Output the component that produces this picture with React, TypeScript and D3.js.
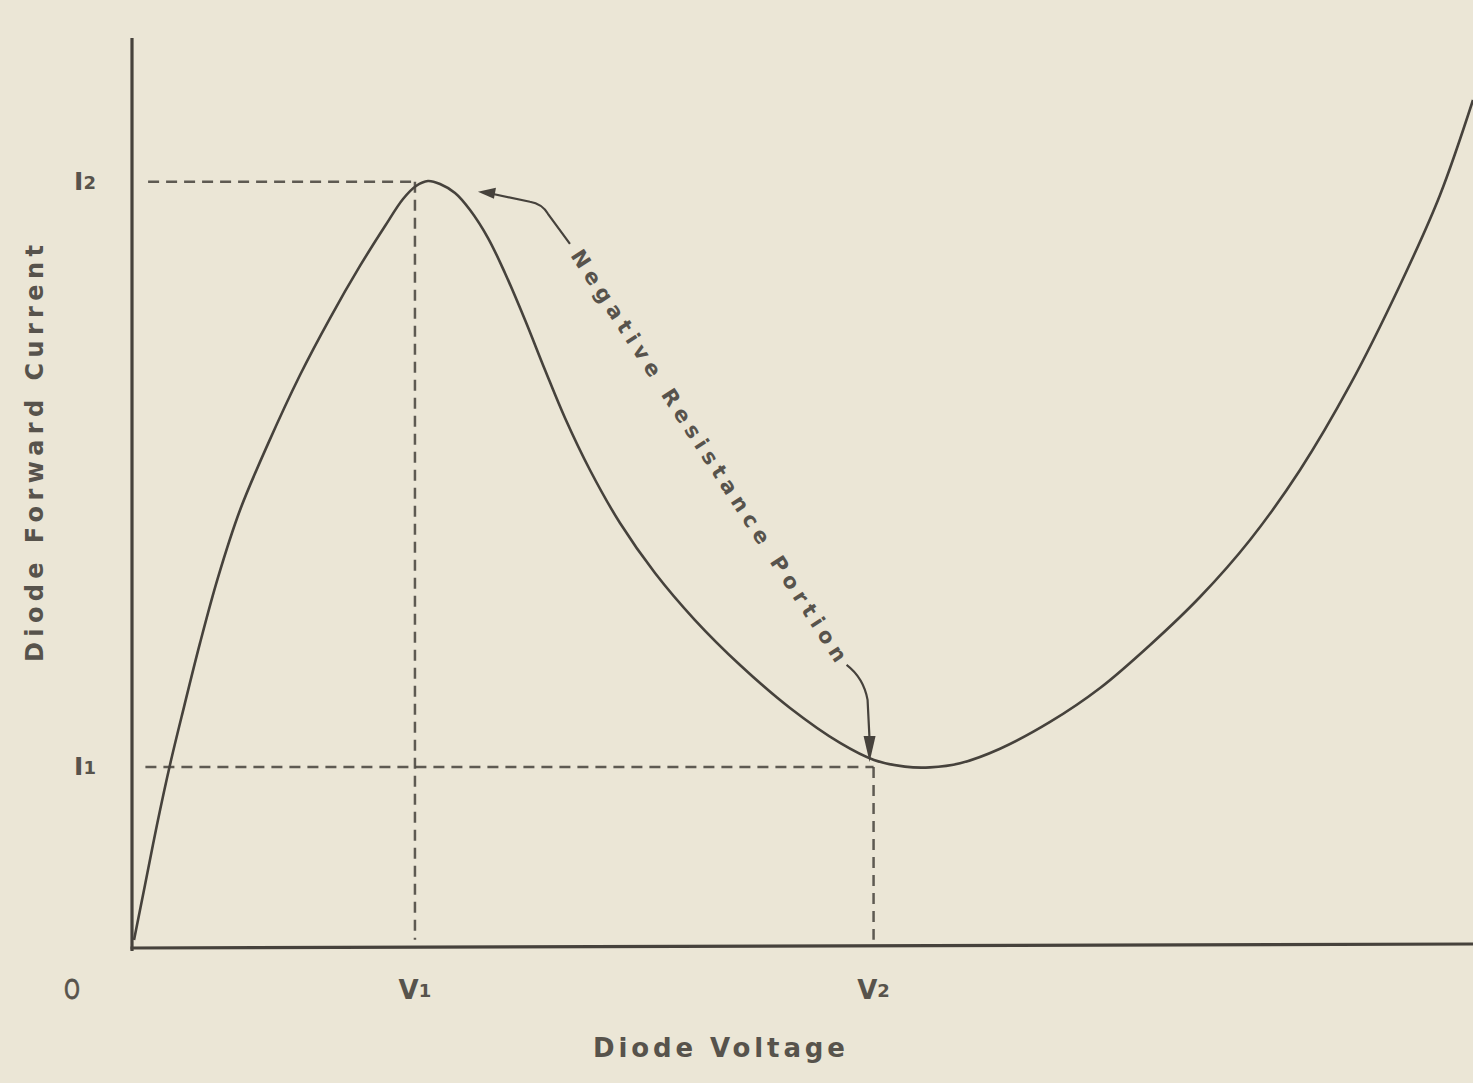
import React from "react";
import * as d3 from "d3";

// Tunnel diode characteristic (arbitrary units 0..100)
const curveVoltage = [0.15, 0.97, 1.86, 2.83, 3.88, 5.07, 6.41, 8.05, 10.14, 12.53, 14.77, 17.0, 18.87, 20.21, 21.18, 22.07, 22.97, 24.09, 25.21, 26.55, 27.81, 29.31, 30.8, 32.29, 34.15, 36.39, 39.0, 41.98, 45.34, 49.07, 52.8, 55.33, 57.64, 59.51, 61.75, 64.73, 68.46, 72.19, 75.92, 79.64, 83.37, 87.1, 90.83, 94.56, 97.54, 100];
const curveCurrent = [0.88, 6.92, 13.52, 20.11, 26.5, 33.5, 40.7, 48.1, 55.4, 62.97, 69.23, 74.95, 79.34, 82.31, 83.74, 84.29, 83.96, 82.97, 81.1, 78.02, 74.18, 69.01, 63.52, 58.24, 52.53, 46.7, 41.21, 36.04, 31.1, 26.37, 22.53, 20.66, 19.93, 19.85, 20.3, 21.9, 24.84, 28.57, 33.3, 38.57, 44.84, 52.53, 61.87, 72.86, 82.75, 93.19];

const voltageMarks = [
  { name: "V", sub: "1", value: 21.1 },
  { name: "V", sub: "2", value: 55.3 },
];
const currentMarks = [
  { name: "I", sub: "2", value: 84.2 },
  { name: "I", sub: "1", value: 19.9 },
];
const originLabel = "O";
const xTitle = "Diode Voltage";
const yTitle = "Diode Forward Current";
const noteText = "Negative Resistance Portion";

const W = 1473;
const H = 1083;
const BG = "#ebe6d6";
const INK = "#46423c";
const TXT = "#57534c";
const FONT = "'DejaVu Sans', 'Liberation Sans', sans-serif";

export default function App() {
  const x = d3.scaleLinear().domain([0, 100]).range([132, 1473]);
  const y = d3.scaleLinear().domain([0, 100]).range([948, 38]);

  const pts: [number, number][] = curveVoltage.map((v, i) => [v, curveCurrent[i]]);
  const line = d3
    .line<[number, number]>()
    .x((d) => x(d[0]))
    .y((d) => y(d[1]))
    .curve(d3.curveCatmullRom.alpha(0.5));

  const [vPeak, vValley] = [voltageMarks[0].value, voltageMarks[1].value];
  const [iPeak, iValley] = [currentMarks[0].value, currentMarks[1].value];

  // annotation anchors
  const topTip = [x(vPeak) + 63, y(iPeak) + 10];
  const botTip = [x(vValley) - 4, y(iValley) - 5];
  const textStart = [topTip[0] + 98, topTip[1] + 60];
  const textEnd = [botTip[0] - 28, botTip[1] - 102];
  const ang = (Math.atan2(textEnd[1] - textStart[1], textEnd[0] - textStart[0]) * 180) / Math.PI;
  const len = Math.hypot(textEnd[0] - textStart[0], textEnd[1] - textStart[1]);

  const topLeader = `M${textStart[0] - 6},${textStart[1] - 8} L${topTip[0] + 70},${topTip[1] + 22} Q${topTip[0] + 64},${topTip[1] + 12} ${topTip[0] + 52},${topTip[1] + 10} L${topTip[0] + 14},${topTip[1] + 2}`;
  const topHead = `M${topTip[0]},${topTip[1]} L${topTip[0] + 18},${topTip[1] - 4} L${topTip[0] + 16},${topTip[1] + 7} Z`;
  const botLeader = `M${textEnd[0] + 5},${textEnd[1] + 5} Q${botTip[0] - 6},${botTip[1] - 84} ${botTip[0] - 2},${botTip[1] - 62} L${botTip[0]},${botTip[1] - 22}`;
  const botHead = `M${botTip[0]},${botTip[1]} L${botTip[0] - 6},${botTip[1] - 26} L${botTip[0] + 6},${botTip[1] - 26} Z`;

  const dash = "11 7";

  return (
    <svg width={W} height={H} style={{ position: "absolute", left: 0, top: 0 }} fontFamily={FONT}>
      <rect width={W} height={H} fill={BG} />

      {/* guides */}
      <line x1={x(1.2)} x2={x(vPeak)} y1={y(iPeak)} y2={y(iPeak)} stroke={INK} strokeWidth={2.5} strokeDasharray={dash} opacity={0.85} />
      <line x1={x(vPeak)} x2={x(vPeak)} y1={y(iPeak)} y2={y(0.9)} stroke={INK} strokeWidth={2.5} strokeDasharray={dash} opacity={0.85} />
      <line x1={x(1.0)} x2={x(vValley)} y1={y(iValley)} y2={y(iValley)} stroke={INK} strokeWidth={2.5} strokeDasharray={dash} opacity={0.85} />
      <line x1={x(vValley)} x2={x(vValley)} y1={y(iValley)} y2={y(0.9)} stroke={INK} strokeWidth={2.5} strokeDasharray={dash} opacity={0.85} />

      {/* axes */}
      <line x1={x(0)} x2={x(0)} y1={y(100)} y2={y(0) + 3} stroke={INK} strokeWidth={3.2} />
      <line x1={x(0) - 1.5} x2={x(100)} y1={y(0)} y2={y(0) - 4} stroke={INK} strokeWidth={3.2} />

      {/* characteristic */}
      <path d={line(pts) || ""} fill="none" stroke={INK} strokeWidth={2.6} />

      {/* annotation */}
      <path d={topLeader} fill="none" stroke={INK} strokeWidth={2.2} />
      <path d={topHead} fill={INK} />
      <path d={botLeader} fill="none" stroke={INK} strokeWidth={2.2} />
      <path d={botHead} fill={INK} />
      <text
        transform={`translate(${textStart[0]},${textStart[1]}) rotate(${ang})`}
        fontSize={21}
        fontWeight="bold"
        fill={TXT}
        dominantBaseline="central"
        textLength={len}
        lengthAdjust="spacing"
      >
        {noteText}
      </text>

      {/* tick labels */}
      <text
        transform={`translate(${x(0) - 60},${y(0) + 42}) scale(0.75,1)`}
        fontSize={27}
        fill={TXT}
        stroke={TXT}
        strokeWidth={0.8}
        textAnchor="middle"
        dominantBaseline="central"
      >
        {originLabel}
      </text>
      {voltageMarks.map((m) => (
        <text key={m.name + m.sub} x={x(m.value)} y={y(0) + 42} fontSize={26} fontWeight="bold" fill={TXT} textAnchor="middle" dominantBaseline="central">
          {m.name}
          <tspan fontSize={18}>{m.sub}</tspan>
        </text>
      ))}
      {currentMarks.map((m) => (
        <text key={m.name + m.sub} x={x(0) - 47} y={y(m.value)} fontSize={25} fontWeight="bold" fill={TXT} textAnchor="middle" dominantBaseline="central">
          {m.name}
          <tspan fontSize={18}>{m.sub}</tspan>
        </text>
      ))}

      {/* axis titles */}
      <text x={593} y={1048} fontSize={26} fontWeight="bold" fill={TXT} dominantBaseline="central" textLength={252} lengthAdjust="spacing">
        {xTitle}
      </text>
      <text
        transform={`translate(35,662) rotate(-90)`}
        fontSize={24}
        fontWeight="bold"
        fill={TXT}
        dominantBaseline="central"
        textLength={417}
        lengthAdjust="spacing"
      >
        {yTitle}
      </text>
    </svg>
  );
}
